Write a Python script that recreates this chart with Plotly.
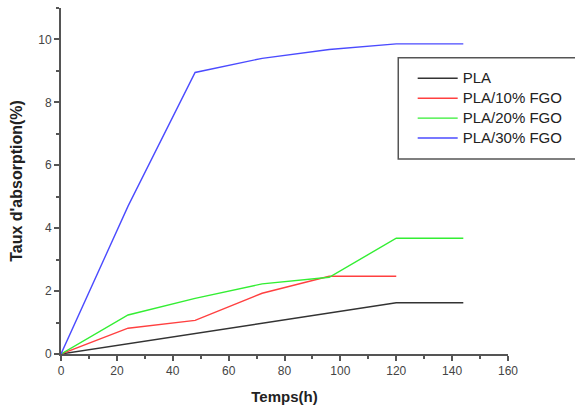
import plotly.graph_objects as go

# Immersion time (h) and water uptake (%) for each formulation
temps = [0, 24, 48, 72, 96, 120, 144]
pla = [0, 0.33, 0.65, 0.97, 1.3, 1.63, 1.63]
pla_fgo10 = [0, 0.82, 1.07, 1.93, 2.47, 2.47]
pla_fgo20 = [0, 1.24, 1.77, 2.23, 2.44, 3.68, 3.68]
pla_fgo30 = [0, 4.7, 8.95, 9.4, 9.68, 9.86, 9.86]

series = [
    ("PLA", temps, pla, "#333333"),
    ("PLA/10% FGO", temps[:len(pla_fgo10)], pla_fgo10, "#ff4040"),
    ("PLA/20% FGO", temps, pla_fgo20, "#33ee33"),
    ("PLA/30% FGO", temps, pla_fgo30, "#4b4bff"),
]

fig = go.Figure()
for name, x, y, color in series:
    # larger legend text while keeping compact row spacing
    label = f'<span style="font-size:15px">{name}</span>'
    fig.add_trace(go.Scatter(x=x, y=y, name=label, mode="lines",
                             line=dict(color=color, width=1.4)))

axis_common = dict(
    showline=True, linecolor="#555555", linewidth=2,
    ticks="outside", ticklen=5, tickwidth=1.5, tickcolor="#555555",
    showgrid=False, zeroline=False, automargin=False,
    tickfont=dict(family="Arial", size=12, color="#444444"),
)

fig.update_xaxes(range=[0, 160], dtick=20, tick0=0,
                 minor=dict(dtick=10, ticks="outside", ticklen=3,
                            tickcolor="#555555", tickwidth=1.5),
                 title=dict(text="<b>Temps(h)</b>", standoff=14,
                            font=dict(family="Arial", size=15, color="#222222")),
                 **axis_common)
fig.update_yaxes(range=[0, 11], dtick=2, tick0=0,
                 minor=dict(dtick=1, ticks="outside", ticklen=3,
                            tickcolor="#555555", tickwidth=1.5),
                 title=dict(text="<b>Taux d'absorption(%)</b>", standoff=12,
                            font=dict(family="Arial", size=16, color="#222222")),
                 **axis_common)

# Frame around the legend, running off the right edge of the page
fig.add_shape(type="rect", xref="paper", yref="paper",
              x0=0.7545, x1=1.16, y0=0.5636, y1=0.856,
              line=dict(color="#555555", width=1.5), fillcolor="white",
              layer="above")

fig.update_layout(
    width=575, height=408,
    margin=dict(l=61, r=66, t=8, b=54),
    plot_bgcolor="white", paper_bgcolor="white",
    showlegend=True,
    legend=dict(x=0.785, y=0.84, xanchor="left", yanchor="top",
                borderwidth=0, bgcolor="rgba(0,0,0,0)",
                font=dict(family="Arial", size=13, color="#222222"),
                tracegroupgap=0, itemwidth=40),
)

fig.write_html("out.html")
